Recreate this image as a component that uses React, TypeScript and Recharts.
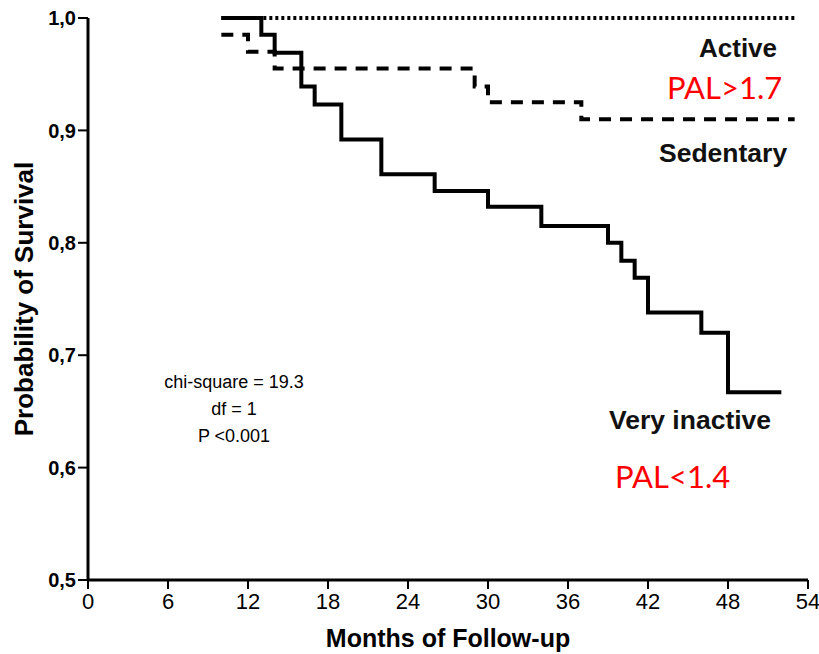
import { LineChart, Line, XAxis, YAxis, Label } from 'recharts';

// Kaplan-Meier steps by activity group (months, cumulative survival)
const veryInactiveMonths = [10, 13, 14, 16, 17, 19, 22, 26, 30, 34, 39, 40, 41, 42, 46, 48, 52];
const veryInactiveSurvival = [1.0, 0.985, 0.969, 0.939, 0.923, 0.892, 0.861, 0.846, 0.832, 0.815, 0.8, 0.784, 0.769, 0.738, 0.72, 0.667, 0.667];

const sedentaryMonths = [10, 12, 14, 29, 30, 37, 53];
const sedentarySurvival = [0.985, 0.97, 0.955, 0.939, 0.925, 0.91, 0.91];

const activeMonths = [10, 53];
const activeSurvival = [1.0, 1.0];

const xTicks = [0, 6, 12, 18, 24, 30, 36, 42, 48, 54];
const yTicks = [0.5, 0.6, 0.7, 0.8, 0.9, 1.0];

const toRows = (months: number[], survival: number[]) =>
  months.map((t, i) => ({ t, s: survival[i] }));

const veryInactive = toRows(veryInactiveMonths, veryInactiveSurvival);
const sedentary = toRows(sedentaryMonths, sedentarySurvival);
const active = toRows(activeMonths, activeSurvival);

const sans = '"Liberation Sans", Arial, sans-serif';

const note = (x: number, y: number, text: string, style: React.CSSProperties) => (
  <div style={{ position: 'absolute', left: x, top: y, whiteSpace: 'nowrap', lineHeight: 1, ...style }}>{text}</div>
);

export default function App() {
  return (
    <div style={{ position: 'absolute', left: 0, top: 0, width: 819, height: 654, background: '#fff' }}>
      <LineChart width={819} height={654} margin={{ top: 18, right: 11, left: 0, bottom: 0 }}>
        <XAxis
          type="number"
          dataKey="t"
          domain={[0, 54]}
          ticks={xTicks}
          allowDataOverflow
          height={74}
          axisLine={{ stroke: '#000', strokeWidth: 3 }}
          tickLine={{ stroke: '#000', strokeWidth: 2 }}
          tickSize={9}
          tickMargin={4}
          tick={{ fill: '#000', fontSize: 22, fontFamily: sans }}
        >
          <Label
            value="Months of Follow-up"
            position="insideBottom"
            offset={7}
            style={{ fill: '#000', fontSize: 25, fontWeight: 700, fontFamily: sans }}
          />
        </XAxis>
        <YAxis
          type="number"
          dataKey="s"
          domain={[0.5, 1.0]}
          ticks={yTicks}
          width={88}
          axisLine={{ stroke: '#000', strokeWidth: 3 }}
          tickLine={{ stroke: '#000', strokeWidth: 2 }}
          tickSize={10}
          tickMargin={2}
          tickFormatter={(v: number) => v.toFixed(1).replace('.', ',')}
          tick={{ fill: '#000', fontSize: 20, fontWeight: 700, fontFamily: sans }}
        >
          <Label
            value="Probability of Survival"
            angle={-90}
            position="insideLeft"
            offset={24}
            style={{ textAnchor: 'middle', fill: '#000', fontSize: 26, fontWeight: 700, fontFamily: sans }}
          />
        </YAxis>
        <Line
          data={active}
          dataKey="s"
          type="stepAfter"
          stroke="#000"
          strokeWidth={4}
          strokeDasharray="3 3"
          dot={false}
          isAnimationActive={false}
        />
        <Line
          data={sedentary}
          dataKey="s"
          type="stepAfter"
          stroke="#000"
          strokeWidth={4}
          strokeDasharray="12 9"
          dot={false}
          isAnimationActive={false}
        />
        <Line
          data={veryInactive}
          dataKey="s"
          type="stepAfter"
          stroke="#000"
          strokeWidth={4}
          dot={false}
          isAnimationActive={false}
        />
      </LineChart>

      {note(699, 35, 'Active', { fontFamily: sans, fontWeight: 700, fontSize: 26, color: '#111' })}
      {note(667, 72, 'PAL>1.7', { fontFamily: 'Lato, sans-serif', fontSize: 31, color: '#ff0000' })}
      {note(659, 140, 'Sedentary', { fontFamily: sans, fontWeight: 700, fontSize: 26.5, color: '#111' })}
      {note(609, 407, 'Very inactive', { fontFamily: sans, fontWeight: 700, fontSize: 26.5, color: '#111' })}
      {note(615, 461, 'PAL<1.4', { fontFamily: 'Lato, sans-serif', fontSize: 31, color: '#ff0000' })}
      <div
        style={{
          position: 'absolute',
          left: 134,
          top: 369,
          width: 200,
          textAlign: 'center',
          fontFamily: sans,
          fontSize: 18,
          color: '#000',
        }}
      >
        <div style={{ lineHeight: '27px' }}>chi-square = 19.3</div>
        <div style={{ lineHeight: '27px' }}>df = 1</div>
        <div style={{ lineHeight: '27px' }}>P &lt;0.001</div>
      </div>
    </div>
  );
}
